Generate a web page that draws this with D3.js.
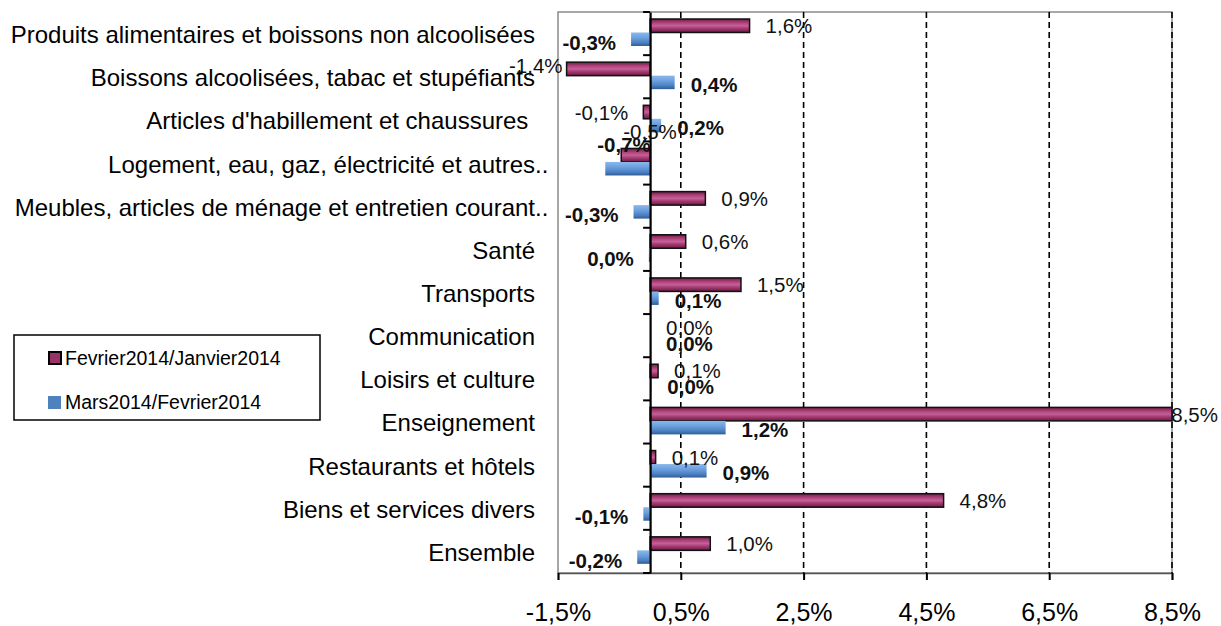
<!DOCTYPE html>
<html><head><meta charset="utf-8">
<script src="https://cdn.jsdelivr.net/npm/d3@7"></script>
<style>html,body{margin:0;padding:0;background:#fff;} text{font-family:Arial,"Liberation Sans",sans-serif;}</style>
</head><body>
<svg id="chart" width="1221" height="626"></svg>
<script>
const categories = [
  "Produits alimentaires et boissons non alcoolisées",
  "Boissons alcoolisées, tabac et stupéfiants",
  "Articles d'habillement et chaussures ",
  "Logement, eau, gaz, électricité et autres..",
  "Meubles, articles de ménage et entretien courant..",
  "Santé",
  "Transports",
  "Communication",
  "Loisirs et culture",
  "Enseignement",
  "Restaurants et hôtels",
  "Biens et services divers",
  "Ensemble"
];
const seriesNames = ["Fevrier2014/Janvier2014", "Mars2014/Fevrier2014"];
const fevValues  = [1.62, -1.36, -0.11, -0.47, 0.9, 0.58, 1.48, 0.0, 0.13, 8.5, 0.09, 4.78, 0.98];
const marsValues = [-0.31, 0.4, 0.18, -0.73, -0.27, -0.02, 0.14, 0.0, 0.02, 1.23, 0.92, -0.11, -0.21];
const xTicks = [-1.5, 0.5, 2.5, 4.5, 6.5, 8.5];

const svg = d3.select("#chart");
const W = 1221;
const pLeft = 558, pRight = 1172, pTop = 12, pBottom = 573;

const x = d3.scaleLinear().domain([-1.5, 8.5]).range([pLeft, pRight]);
const y = d3.scaleBand().domain(categories).range([pTop, pBottom]).padding(0);
const inner = d3.scaleBand().domain(seriesNames).range([7, 34]).padding(0);

const fmt = v => {
  const s = Math.abs(v).toFixed(1);
  const neg = v < 0 && s !== "0.0";
  return (neg ? "-" : "") + s.replace(".", ",") + "%";
};

// gradients
const defs = svg.append("defs");
const g1 = defs.append("linearGradient").attr("id", "gFev").attr("x1", 0).attr("y1", 0).attr("x2", 0).attr("y2", 1);
[[0, "#6f1d48"], [0.3, "#b2457c"], [0.5, "#c4609a"], [0.7, "#a53a70"], [1, "#6a1a44"]]
  .forEach(([o, c]) => g1.append("stop").attr("offset", o).attr("stop-color", c));
const g2 = defs.append("linearGradient").attr("id", "gMars").attr("x1", 0).attr("y1", 0).attr("x2", 0).attr("y2", 1);
[[0, "#8ab8ec"], [0.4, "#6a9fde"], [0.75, "#4b7fc0"], [1, "#2e5d97"]]
  .forEach(([o, c]) => g2.append("stop").attr("offset", o).attr("stop-color", c));

// plot border
svg.append("rect").attr("x", pLeft).attr("y", pTop).attr("width", pRight - pLeft).attr("height", pBottom - pTop)
  .attr("fill", "none").attr("stroke", "#8a8a8a").attr("stroke-width", 1.5);

// dashed gridlines
svg.append("g").selectAll("line").data(xTicks.filter(t => t > -1.5)).join("line")
  .attr("x1", d => x(d)).attr("x2", d => x(d)).attr("y1", pTop).attr("y2", pBottom)
  .attr("stroke", "#000").attr("stroke-width", 1.6).attr("stroke-dasharray", "6,4");

// bottom axis
const xAxis = d3.axisBottom(x).tickValues(xTicks).tickSize(7).tickFormat(d => fmt(d));
const gx = svg.append("g").attr("transform", `translate(0,${pBottom})`).call(xAxis);
gx.select(".domain").attr("stroke", "#555").attr("stroke-width", 1.5);
gx.selectAll(".tick line").attr("stroke", "#000").attr("stroke-width", 2);
gx.selectAll(".tick text").attr("font-size", 25).attr("fill", "#000").attr("dy", 0).attr("y", 48)
  .style("font-family", "Arial, 'Liberation Sans', sans-serif");

// bars
const rows = categories.map((c, i) => ({cat: c, vals: [fevValues[i], marsValues[i]]}));
const barG = svg.append("g");
rows.forEach(r => {
  r.vals.forEach((v, si) => {
    const y0 = y(r.cat) + inner(seriesNames[si]);
    const x0 = Math.min(x(0), x(v)), w = Math.abs(x(v) - x(0));
    barG.append("rect").attr("x", x0).attr("y", y0).attr("width", w).attr("height", inner.bandwidth())
      .attr("fill", si === 0 ? "url(#gFev)" : "url(#gMars)")
      .attr("stroke", si === 0 ? "#111" : "none").attr("stroke-width", si === 0 ? 1.5 : 0);
  });
});

// zero axis (category axis)
const yAxis = d3.axisLeft(y).tickSize(0).tickFormat("");
const gy = svg.append("g").attr("transform", `translate(${x(0)},0)`).call(yAxis);
gy.select(".domain").attr("stroke", "#000").attr("stroke-width", 2.2);
svg.append("g").selectAll("line").data(d3.range(categories.length + 1)).join("line")
  .attr("x1", x(0) - 7).attr("x2", x(0))
  .attr("y1", i => pTop + i * y.step()).attr("y2", i => pTop + i * y.step())
  .attr("stroke", "#000").attr("stroke-width", 2);

// category labels
const catG = svg.append("g");
categories.forEach(c => {
  const t = catG.append("text").attr("x", 535).attr("y", y(c) + y.bandwidth() / 2 + 1)
    .attr("text-anchor", "end").attr("dominant-baseline", "central")
    .attr("font-size", 24).attr("fill", "#000").style("white-space", "pre").text(c);
  if (c.endsWith("..")) {
    const tmp = catG.append("text").attr("font-size", 24).text("..");
    const dw = tmp.node().getComputedTextLength();
    tmp.remove();
    t.attr("x", 535 + dw);
  }
});

// data labels
const labG = svg.append("g");
rows.forEach(r => {
  r.vals.forEach((v, si) => {
    const cy = y(r.cat) + inner(seriesNames[si]) + inner.bandwidth() / 2;
    const xe = x(v);
    const t = labG.append("text").attr("font-size", 20.5).attr("fill", "#111")
      .attr("font-weight", si === 1 ? "bold" : "normal")
      .attr("dominant-baseline", "central").text(fmt(v));
    const wdt = t.node().getComputedTextLength();
    if (v >= 0) {
      let tx = xe + 16;
      if (tx + wdt > W - 3) tx = W - 3 - wdt;
      t.attr("x", tx).attr("y", cy + (si === 1 ? 2 : 0));
    } else {
      const lx = xe - 15;
      if (lx - wdt < pLeft) {
        if (xe < pLeft + 20) {
          t.attr("text-anchor", "end").attr("x", xe - 4).attr("y", cy - 3);
        } else {
          t.attr("x", xe + (si === 0 ? 2 : -8)).attr("y", cy - 24);
        }
      } else {
        t.attr("text-anchor", "end").attr("x", lx).attr("y", cy + (si === 1 ? 3 : 0));
      }
    }
  });
});

// legend
const lg = svg.append("g");
lg.append("rect").attr("x", 14).attr("y", 335).attr("width", 306).attr("height", 85)
  .attr("fill", "#fff").attr("stroke", "#000").attr("stroke-width", 1.5);
seriesNames.forEach((s, i) => {
  const yy = i === 0 ? 358 : 402;
  lg.append("rect").attr("x", i === 0 ? 49 : 48).attr("y", yy - 6).attr("width", i === 0 ? 12 : 13).attr("height", i === 0 ? 12 : 13)
    .attr("fill", i === 0 ? "#993366" : "#4f81bd")
    .attr("stroke", i === 0 ? "#000" : "none").attr("stroke-width", 2);
  lg.append("text").attr("x", 65).attr("y", yy).attr("dominant-baseline", "central")
    .attr("font-size", 19.5).attr("fill", "#000").text(s);
});
</script>
</body></html>
